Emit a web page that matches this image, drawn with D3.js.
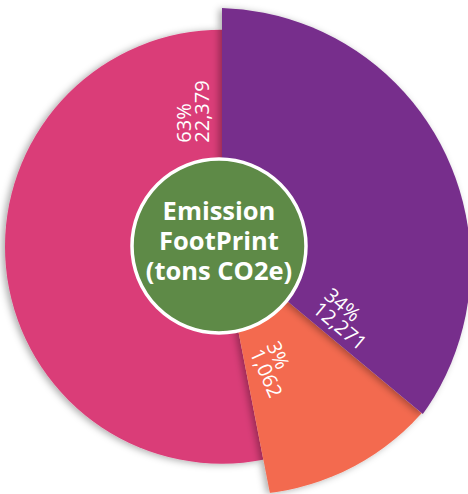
<!DOCTYPE html>
<html>
<head>
<meta charset="utf-8">
<script src="https://cdn.jsdelivr.net/npm/d3@7"></script>
<style>
  html, body { margin: 0; padding: 0; background: #ffffff; }
  svg { display: block; }
</style>
</head>
<body>
<svg id="chart" width="468" height="494"></svg>
<script>
// ---- data ----
const segments = ["Segment A", "Segment B", "Segment C"];
const values = [12271, 1062, 22379];
const percentLabels = ["34%", "3%", "63%"];
// angular span of each slice as drawn in the picture (degrees)
const sliceSpanDeg = [129.8, 39.2, 191.0];
const titleLines = ["Emission", "FootPrint", "(tons CO2e)"];

// ---- styling / layout ----
const colors = ["#772e8c", "#f36a4f", "#da3d78"];
const centerFill = "#5e8a47";
const W = 468, H = 494;
const cx = 222, cy = 246.7;
// each slice's outer arc: radius and offset of its arc centre from the pie centre
const outerShape = [
  { r: 257, ox: -8.3, oy: 18.1 },
  { r: 245, ox: 17, oy: 3.3 },
  { r: 217, ox: 0, oy: 0 }
];
// label placement in a frame rotated with the label
const labelLayout = [
  { rot: 40, x: 110, dy: -33 },
  { rot: 66, x: 108, dy: -7 },
  { rot: -90, x: 104, dy: -38 }
];

const svg = d3.select("#chart");
const defs = svg.append("defs");
const f = defs.append("filter").attr("id", "shadow")
  .attr("x", "-20%").attr("y", "-20%").attr("width", "140%").attr("height", "140%");
f.append("feDropShadow").attr("dx", -3).attr("dy", 1).attr("stdDeviation", 3.5)
  .attr("flood-color", "#000").attr("flood-opacity", 0.32);

const data = segments.map((s, i) => ({
  name: s, value: values[i], pct: percentLabels[i], span: sliceSpanDeg[i], i
}));

const pie = d3.pie().sort(null).value(d => d.span);
const arcs = pie(data);

const wedge = d3.arc().innerRadius(0).outerRadius(420);

const g = svg.append("g").attr("transform", `translate(${cx},${cy})`);

arcs.forEach(a => {
  defs.append("clipPath").attr("id", "clip" + a.data.i)
    .append("path").attr("d", wedge(a));
});

// draw order: pink, orange, purple
const order = [2, 1, 0];
order.forEach(idx => {
  const a = arcs[idx];
  const s = outerShape[idx];
  g.append("g").attr("filter", "url(#shadow)")
    .append("circle")
    .attr("clip-path", `url(#clip${idx})`)
    .attr("cx", s.ox).attr("cy", s.oy).attr("r", s.r)
    .attr("fill", colors[idx]);
});

// labels
const fmt = d3.format(",");
arcs.forEach(a => {
  const L = labelLayout[a.data.i];
  const lg = g.append("g").attr("transform", `rotate(${L.rot})`);
  const t = lg.append("text")
    .attr("font-family", "'Open Sans', 'Noto Sans', sans-serif")
    .attr("font-size", 20)
    .attr("fill", "#ffffff")
    .attr("text-anchor", "start");
  t.append("tspan").attr("x", L.x).attr("y", L.dy + 7).text(a.data.pct);
  t.append("tspan").attr("x", L.x).attr("y", L.dy + 7 + 18).text(fmt(a.data.value));
});

// centre circle
svg.append("circle")
  .attr("cx", 219).attr("cy", 246).attr("r", 87)
  .attr("fill", centerFill)
  .attr("stroke", "#ffffff").attr("stroke-width", 3.5);

const tt = svg.append("text")
  .attr("font-family", "'Open Sans', 'Noto Sans', sans-serif")
  .attr("font-weight", 700)
  .attr("font-size", 25.5)
  .attr("fill", "#ffffff")
  .attr("text-anchor", "middle");
titleLines.forEach((line, k) => {
  tt.append("tspan").attr("x", 219).attr("y", 220 + k * 30).text(line);
});
</script>
</body>
</html>
